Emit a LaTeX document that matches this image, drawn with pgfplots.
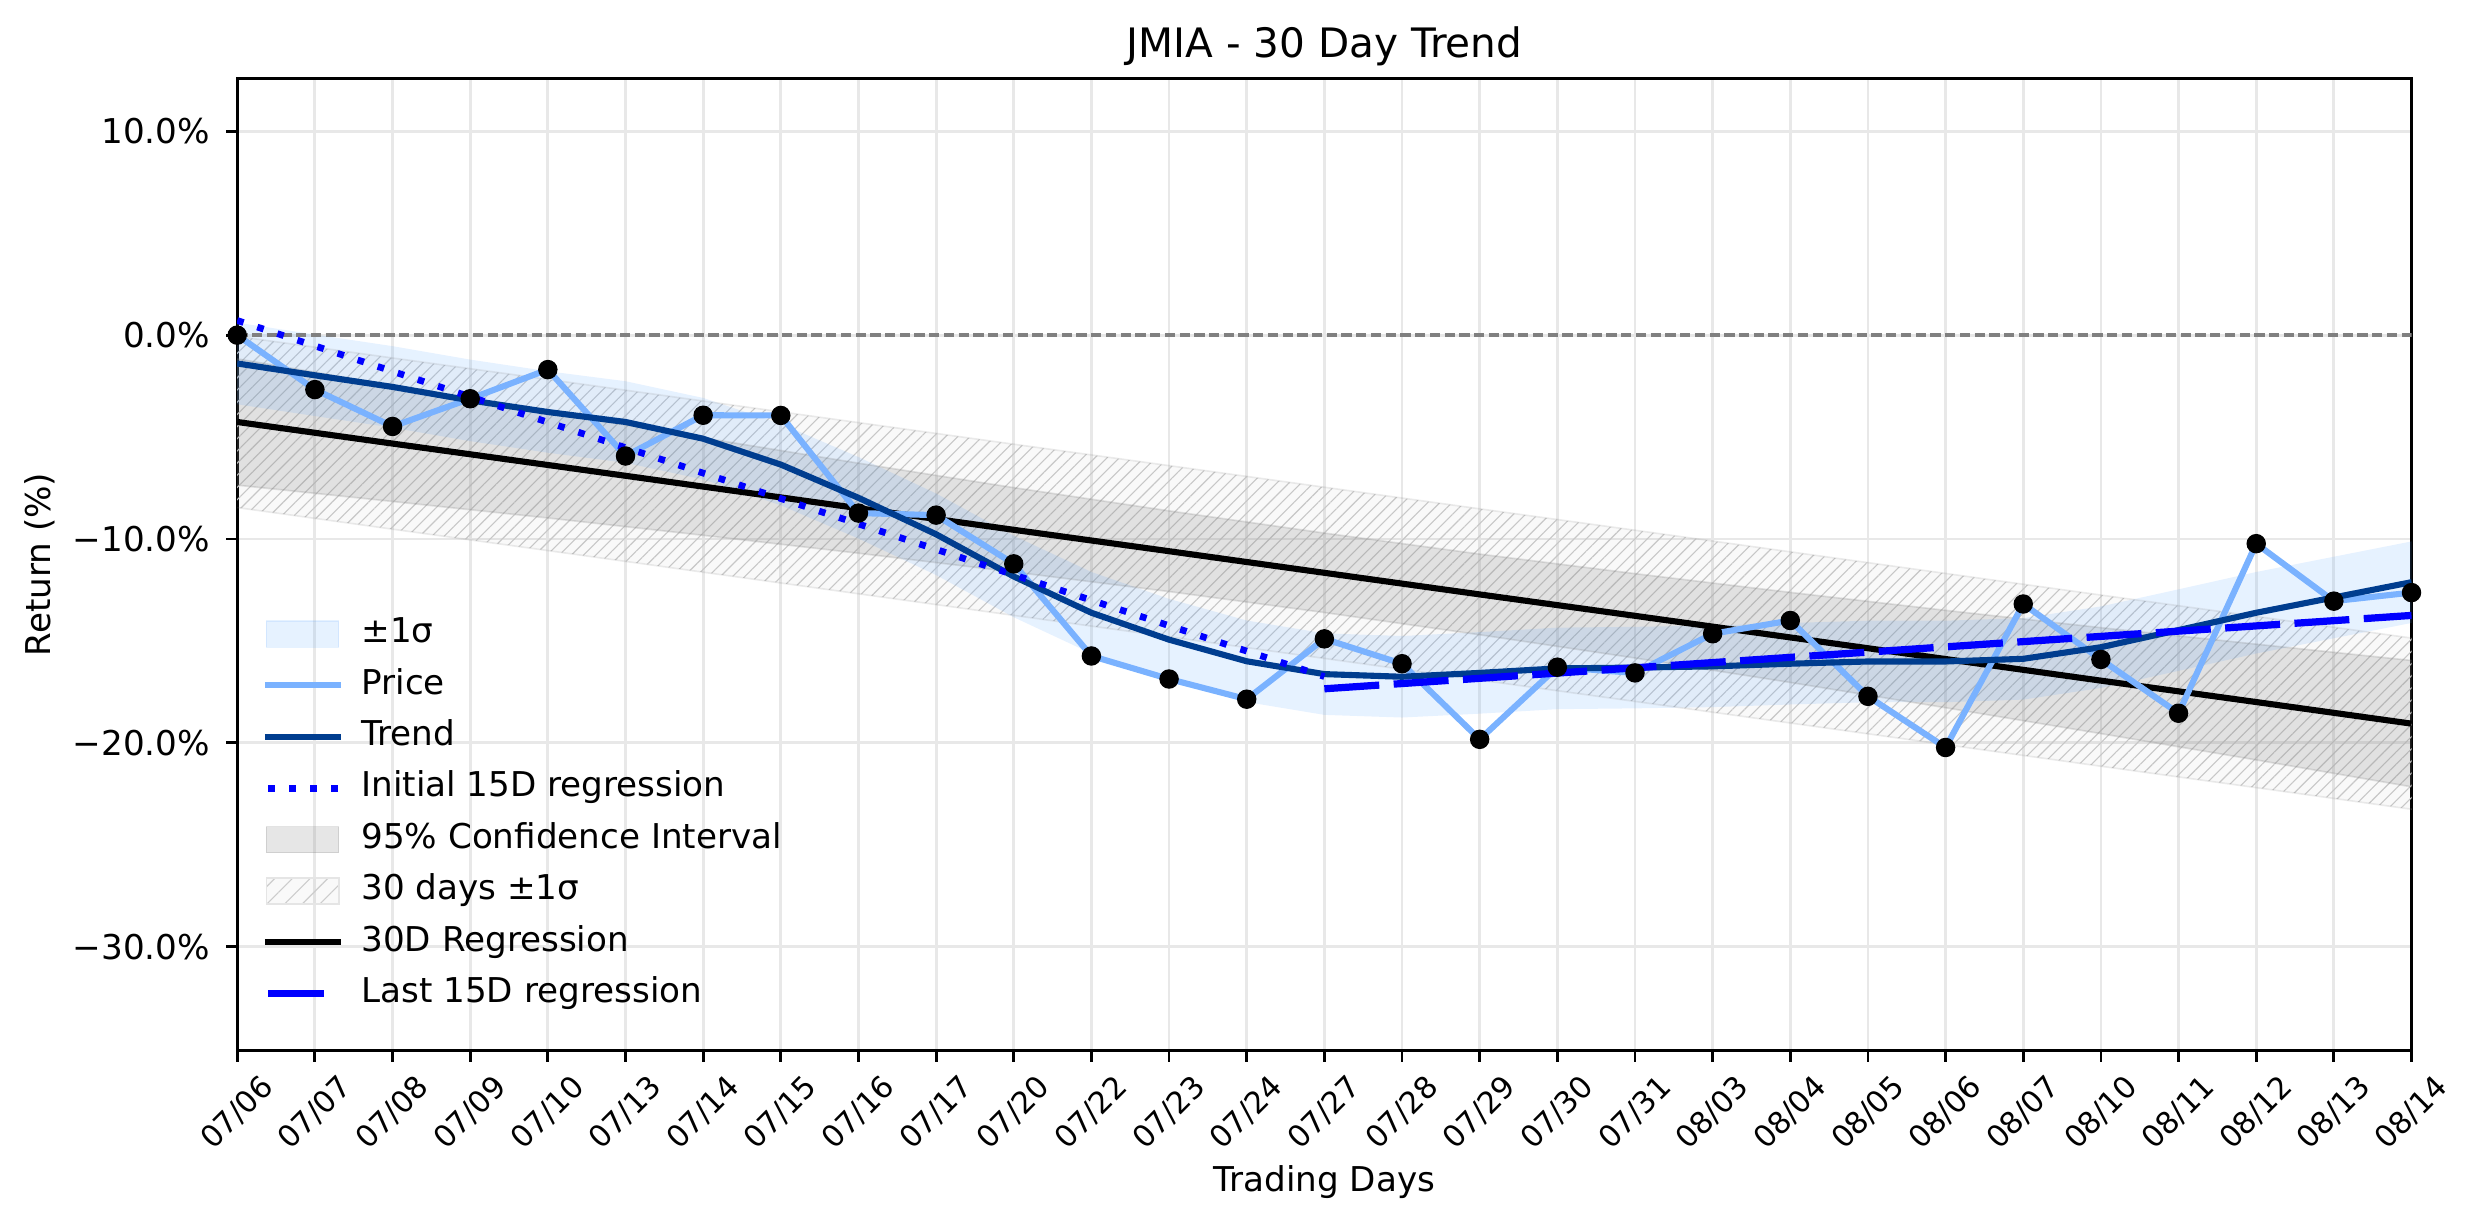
\documentclass[border=0pt]{standalone}
\usepackage{pgfplots}
\pgfplotsset{compat=1.18}
\usepackage{pgfplotstable}
\usepgfplotslibrary{fillbetween}
\usetikzlibrary{patterns.meta}
\usepackage{fontspec}
\setmainfont{DejaVu Sans}

\definecolor{priceblue}{RGB}{122,178,255}
\definecolor{trendblue}{RGB}{0,61,143}
\definecolor{bandblue}{RGB}{90,165,255}

\newcommand\tickfont{\fontsize{12.3pt}{14.8pt}\selectfont}
\newcommand\xtickfont{\fontsize{10.9pt}{13pt}\selectfont}
\newcommand\titlefont{\fontsize{14.6pt}{17.5pt}\selectfont}

% daily returns (%), smoothed trend and its +-1 sigma band
\pgfplotstableread{
x price trend up lo
0 0.00 -1.39 0.61 -3.39
1 -2.67 -1.97 0.03 -3.97
2 -4.48 -2.54 -0.54 -4.54
3 -3.12 -3.20 -1.20 -5.20
4 -1.69 -3.77 -1.77 -5.77
5 -5.93 -4.26 -2.26 -6.26
6 -3.93 -5.08 -3.08 -7.08
7 -3.94 -6.35 -4.35 -8.35
8 -8.73 -7.98 -5.98 -9.98
9 -8.83 -9.77 -7.77 -11.77
10 -11.22 -11.84 -9.84 -13.84
11 -15.74 -13.62 -11.62 -15.62
12 -16.87 -14.94 -12.94 -16.94
13 -17.86 -16.00 -14.00 -18.00
14 -14.90 -16.63 -14.63 -18.63
15 -16.12 -16.76 -14.76 -18.76
16 -19.83 -16.57 -14.57 -18.57
17 -16.29 -16.35 -14.35 -18.35
18 -16.57 -16.31 -14.31 -18.31
19 -14.65 -16.25 -14.25 -18.25
20 -14.00 -16.12 -14.12 -18.12
21 -17.72 -16.01 -14.01 -18.01
22 -20.23 -16.01 -14.01 -18.01
23 -13.19 -15.88 -13.88 -17.88
24 -15.91 -15.31 -13.31 -17.31
25 -18.55 -14.47 -12.47 -16.47
26 -10.23 -13.62 -11.62 -15.62
27 -13.05 -12.87 -10.87 -14.87
28 -12.63 -12.12 -10.12 -14.12
}\daily

% 30 day regression, 95% CI and +-1 sigma
\pgfplotstableread{
x reg ciup cilo hup hlo
0 -4.26 -1.16 -7.36 -0.06 -8.46
2 -5.32 -2.48 -8.16 -1.12 -9.52
4 -6.37 -3.77 -8.97 -2.17 -10.57
6 -7.43 -5.04 -9.82 -3.23 -11.63
8 -8.49 -6.28 -10.70 -4.29 -12.69
10 -9.55 -7.48 -11.62 -5.35 -13.75
12 -10.60 -8.62 -12.58 -6.40 -14.80
14 -11.66 -9.71 -13.61 -7.46 -15.86
16 -12.72 -10.74 -14.70 -8.52 -16.92
18 -13.77 -11.70 -15.84 -9.57 -17.97
20 -14.83 -12.62 -17.04 -10.63 -19.03
22 -15.89 -13.50 -18.28 -11.69 -20.09
24 -16.95 -14.35 -19.55 -12.75 -21.15
26 -18.00 -15.16 -20.84 -13.80 -22.20
28 -19.06 -15.96 -22.16 -14.86 -23.26
}\regr

\pgfplotsset{
  linelegend/.style={legend image code/.code={\draw[##1] (0pt,0pt) -- (27.4pt,0pt);}},
  shortlegend/.style={legend image code/.code={\draw[##1] (1.2pt,0pt) -- (21.3pt,0pt);}},
  boxlegend/.style={legend image code/.code={\draw[##1] (0.6pt,-4.7pt) rectangle (26.6pt,4.7pt);}},
  hatchlegend/.style={legend image code/.code={%
    \fill[draw=none, gray, opacity=0.05] (0.6pt,-4.7pt) rectangle (26.6pt,4.7pt);
    \fill[draw=none, pattern={Lines[angle=45,distance=4.5pt,line width=0.4pt]}, pattern color=black!20] (0.6pt,-4.7pt) rectangle (26.6pt,4.7pt);
    \draw[black!10, line width=0.7pt] (0.6pt,-4.7pt) rectangle (26.6pt,4.7pt);}},
}

\begin{document}
\begin{tikzpicture}
\begin{axis}[
  at={(0pt,0pt)}, anchor=south west,
  scale only axis, width=782.7pt, height=350pt,
  xmin=0, xmax=28, ymin=-35.1, ymax=12.6,
  xtick={0,...,28},
  xticklabels={07/06,07/07,07/08,07/09,07/10,07/13,07/14,07/15,07/16,07/17,07/20,07/22,07/23,07/24,07/27,07/28,07/29,07/30,07/31,08/03,08/04,08/05,08/06,08/07,08/10,08/11,08/12,08/13,08/14},
  ytick={-30,-20,-10,0,10},
  yticklabels={−30.0\%,−20.0\%,−10.0\%,0.0\%,10.0\%},
  tick pos=left, tick align=outside, major tick length=4pt,
  tick style={black, line width=1pt},
  axis line style={line width=1pt},
  xmajorgrids, ymajorgrids,
  grid style={line width=1pt, black!9},
  yticklabel style={font=\tickfont, anchor=east, inner sep=0pt, xshift=-5.6pt},
  xticklabel style={font=\xtickfont, anchor=center, inner sep=0pt, yshift=-18.4pt, rotate=45},
  title={JMIA - 30 Day Trend},
  title style={font=\titlefont, at={([yshift=5.5pt]axis description cs:0.5,1)}, anchor=center, inner sep=0pt},
  xlabel={Trading Days},
  xlabel style={font=\tickfont, at={([yshift=-47.4pt]axis description cs:0.5,0)}, anchor=center, inner sep=0pt},
  ylabel={Return (\%)},
  ylabel style={font=\tickfont, at={([xshift=-71.2pt]axis description cs:0,0.5)}, anchor=center, inner sep=0pt},
  legend cell align=left,
  legend style={draw=none, fill=none, font=\tickfont,
    at={(axis description cs:0.0109,0.4463)}, anchor=north west,
    inner sep=0pt, row sep=6.4pt, column sep=6.2pt,
    nodes={inner sep=0pt, text height=9.2pt, text depth=2.9pt}},
]
% 30 days +-1 sigma (hatched)
\addplot[name path=hu, draw=gray, draw opacity=0.15, line width=0.6pt, forget plot] table[x=x,y=hup]{\regr};
\addplot[name path=hl, draw=gray, draw opacity=0.15, line width=0.6pt, forget plot] table[x=x,y=hlo]{\regr};
\addplot[fill=gray, fill opacity=0.05, forget plot] fill between[of=hu and hl];
\addplot[pattern={Lines[angle=45,distance=3.1pt,line width=0.4pt]}, pattern color=black!22, forget plot] fill between[of=hu and hl];
% 95% confidence interval
\addplot[name path=cu, draw=gray, draw opacity=0.22, line width=0.6pt, forget plot] table[x=x,y=ciup]{\regr};
\addplot[name path=cl, draw=gray, draw opacity=0.22, line width=0.6pt, forget plot] table[x=x,y=cilo]{\regr};
\addplot[fill=gray, fill opacity=0.2, forget plot] fill between[of=cu and cl];
% +-1 sigma band around trend
\addplot[name path=bu, draw=none, forget plot] table[x=x,y=up]{\daily};
\addplot[name path=bl, draw=none, forget plot] table[x=x,y=lo]{\daily};
\addplot[fill=bandblue, fill opacity=0.15, forget plot] fill between[of=bu and bl];
% zero line
\addplot[gray, line width=1.2pt, dash pattern=on 3.7pt off 1.6pt, forget plot] coordinates {(0,0) (28,0)};
% 30D regression
\addplot[black, line width=2.2pt, forget plot] table[x=x,y=reg]{\regr};
% price and trend
\addplot[priceblue, line width=2.2pt, forget plot] table[x=x,y=price]{\daily};
\addplot[trendblue, line width=2.2pt, forget plot] table[x=x,y=trend]{\daily};
% 15 day regressions
\addplot[blue, line width=2.4pt, dash pattern=on 2.4pt off 5.2pt, forget plot] coordinates {(0,0.72) (14,-16.75)};
\addplot[blue, line width=2.6pt, dash pattern=on 19.8pt off 5.2pt, forget plot] coordinates {(14,-17.35) (28,-13.75)};
% price points
\addplot[only marks, mark=*, mark size=3.3pt, black, forget plot] table[x=x,y=price]{\daily};

\addlegendimage{boxlegend, fill=bandblue, fill opacity=0.15, draw=bandblue, draw opacity=0.15}
\addlegendentry{±1σ}
\addlegendimage{linelegend, priceblue, line width=2.2pt}
\addlegendentry{Price}
\addlegendimage{linelegend, trendblue, line width=2.2pt}
\addlegendentry{Trend}
\addlegendimage{linelegend, blue, line width=2.4pt, dash pattern=on 2.4pt off 5.2pt, dash phase=-1.2pt}
\addlegendentry{Initial 15D regression}
\addlegendimage{boxlegend, fill=gray, fill opacity=0.2, draw=gray, draw opacity=0.22}
\addlegendentry{95\% Confidence Interval}
\addlegendimage{hatchlegend}
\addlegendentry{30 days ±1σ}
\addlegendimage{linelegend, black, line width=2.2pt}
\addlegendentry{30D Regression}
\addlegendimage{shortlegend, blue, line width=2.6pt}
\addlegendentry{Last 15D regression}
\end{axis}
\path (-85.4pt,-62.4pt) rectangle (805.2pt,378.2pt);
\end{tikzpicture}
\end{document}
